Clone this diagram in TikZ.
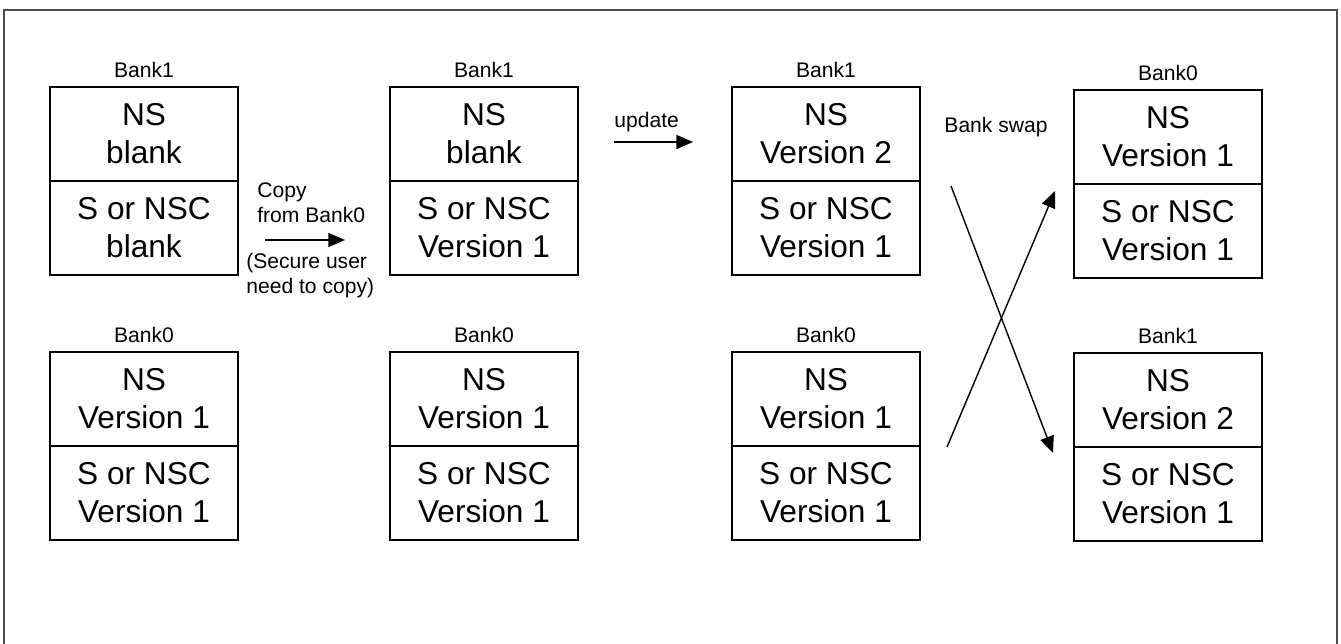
\documentclass[tikz,border=0pt]{standalone}
\usepackage{fontspec}
\setmainfont{Liberation Sans}
\usetikzlibrary{positioning,arrows.meta}

\tikzset{
    half/.style={draw, line width=0.8pt, outer sep=0pt, inner sep=0pt,
        minimum width=3.76cm, minimum height=1.88cm, align=center,
        font=\fontsize{18}{21.6}\selectfont},
    banklbl/.style={font=\fontsize{12}{14}\selectfont, inner sep=1pt},
    note/.style={font=\fontsize{12}{14.2}\selectfont, align=left, inner sep=0pt},
    flow/.style={line width=0.8pt, -{Triangle[length=9.5pt,width=8pt]}}
}

\begin{document}
\begin{tikzpicture}[x=0.02cm, y=-0.02cm]
            \useasboundingbox (0,0) rectangle (1341,644);

            % Draw frame
            \draw[black!70, line width=0.9pt] (4,644) -- (4,10) -- (1337,10) -- (1337,644);

            % Draw first step (blank bank)
            \node[half] (aUpNS) at (144,134) {NS\\blank};
            \node[half, below=0pt of aUpNS] (aUpS) {S or NSC\\blank};
            \node[banklbl, above=4pt of aUpNS] (aUpLbl) {Bank1};
            \node[half] (aLoNS) at (144,399) {NS\\Version 1};
            \node[half, below=0pt of aLoNS] (aLoS) {S or NSC\\Version 1};
            \node[banklbl, above=4pt of aLoNS] (aLoLbl) {Bank0};

            % Draw second step (after copy)
            \node[half] (bUpNS) at (484,134) {NS\\blank};
            \node[half, below=0pt of bUpNS] (bUpS) {S or NSC\\Version 1};
            \node[banklbl, above=4pt of bUpNS] (bUpLbl) {Bank1};
            \node[half] (bLoNS) at (484,399) {NS\\Version 1};
            \node[half, below=0pt of bLoNS] (bLoS) {S or NSC\\Version 1};
            \node[banklbl, above=4pt of bLoNS] (bLoLbl) {Bank0};

            % Draw third step (after update)
            \node[half] (cUpNS) at (826,134) {NS\\Version 2};
            \node[half, below=0pt of cUpNS] (cUpS) {S or NSC\\Version 1};
            \node[banklbl, above=4pt of cUpNS] (cUpLbl) {Bank1};
            \node[half] (cLoNS) at (826,399) {NS\\Version 1};
            \node[half, below=0pt of cLoNS] (cLoS) {S or NSC\\Version 1};
            \node[banklbl, above=4pt of cLoNS] (cLoLbl) {Bank0};

            % Draw fourth step (after swap)
            \node[half] (dUpNS) at (1168,137) {NS\\Version 1};
            \node[half, below=0pt of dUpNS] (dUpS) {S or NSC\\Version 1};
            \node[banklbl, above=4pt of dUpNS] (dUpLbl) {Bank0};
            \node[half] (dLoNS) at (1168,400) {NS\\Version 2};
            \node[half, below=0pt of dLoNS] (dLoS) {S or NSC\\Version 1};
            \node[banklbl, above=4pt of dLoNS] (dLoLbl) {Bank1};

            % Draw copy arrow
            \coordinate (cpFrom) at (265,240);
            \coordinate (cpTo) at (345,240);
            \draw[flow] (cpFrom) -- (cpTo);
            \node[note, anchor=west] (cpTxt) at (257,203) {Copy\\from Bank0};
            \node[note, anchor=west] (cpNote) at (246,276) {(Secure user\\need to copy)};

            % Draw update arrow
            \coordinate (upFrom) at (614,142);
            \coordinate (upTo) at (693,142);
            \draw[flow] (upFrom) -- (upTo);
            \node[note, anchor=west] (upTxt) at (614,122) {update};

            % Draw swap arrows
            \coordinate (swA) at (951,186);
            \coordinate (swAend) at (1053,453);
            \coordinate (swB) at (947,447);
            \coordinate (swBend) at (1055,191);
            \draw[flow] (swA) -- (swAend);
            \draw[flow] (swB) -- (swBend);
            \node[note] (swTxt) at (996,127) {Bank swap};
\end{tikzpicture}
\end{document}
